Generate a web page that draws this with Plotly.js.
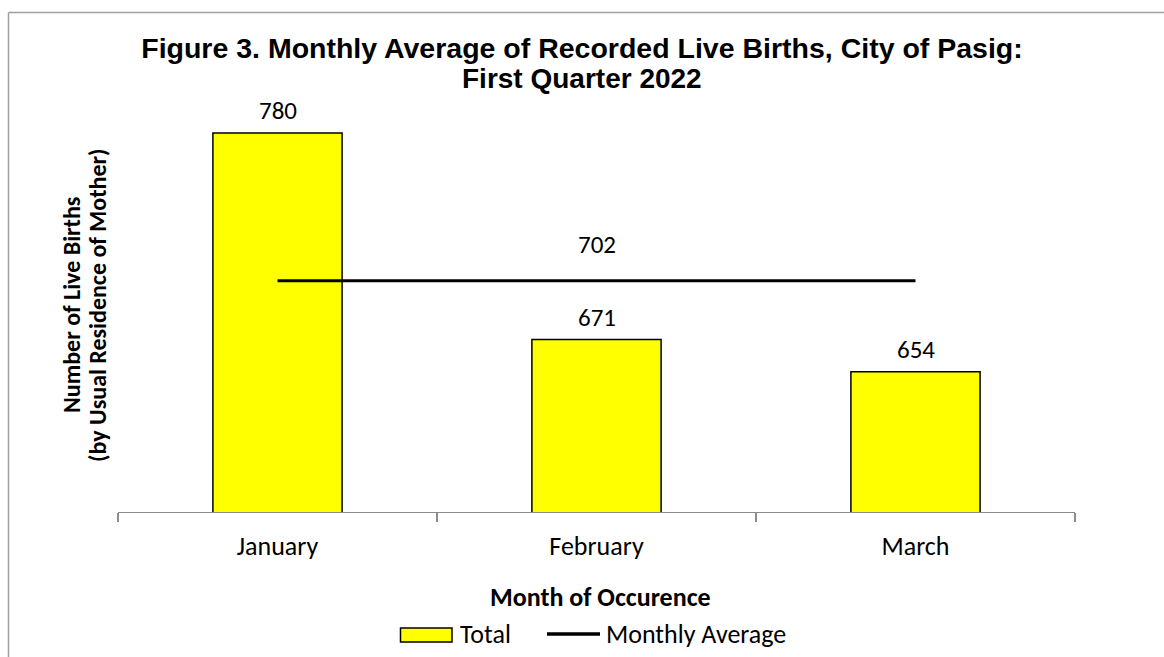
<!DOCTYPE html>
<html>
<head>
<meta charset="utf-8">
<script src="https://cdn.plot.ly/plotly-3.0.1.min.js"></script>
<style>html,body{margin:0;padding:0;background:#fff}#chart{width:1164px;height:657px}</style>
</head>
<body>
<div id="chart"></div>
<script>
const months = ["January", "February", "March"];
const totals = [780, 671, 654];
const average = [702, 702, 702];
const averageLabel = "702";
const seriesNames = ["Total", "Monthly Average"];
const titleLines = ["Figure 3. Monthly Average of Recorded Live Births, City of Pasig:", "First Quarter 2022"];
const yTitleLines = ["Number of Live Births", "(by Usual Residence of Mother)"];
const xTitle = "Month of Occurence";

const bodyFont = "Carlito, Lato, 'Liberation Sans', sans-serif";
const titleFont = "'Liberation Sans', Arial, sans-serif";

// plot-area geometry helpers (pixels -> paper)
const L = 118, R = 89, T = 95, B = 145, W = 1164, H = 657;
const PW = W - L - R, PH = H - T - B;
const px = x => (x - L) / PW;
const py = y => (H - B - y) / PH;

const traces = [
  {
    type: "bar",
    name: seriesNames[0],
    x: months,
    y: totals,
    width: 0.405,
    marker: {color: "#FFFF00", line: {color: "#000000", width: 1.5}},
    showlegend: false
  },
  {
    type: "scatter",
    mode: "lines",
    name: seriesNames[1],
    x: months,
    y: average,
    line: {color: "#000000", width: 3.2},
    showlegend: false
  }
];

const annotations = months.map((m, i) => ({
  x: m, y: totals[i], xref: "x", yref: "y",
  text: String(totals[i]), showarrow: false,
  yanchor: "bottom", yshift: 5,
  font: {family: bodyFont, size: 25, color: "#000"}
}));
annotations.push({
  x: months[1], y: average[1], xref: "x", yref: "y",
  text: averageLabel, showarrow: false,
  yanchor: "bottom", yshift: 19,
  font: {family: bodyFont, size: 25, color: "#000"}
});
// title line 2
annotations.push({
  x: px(582), y: py(78.5), xref: "paper", yref: "paper",
  text: "<b>" + titleLines[1] + "</b>", showarrow: false,
  xanchor: "center", yanchor: "middle",
  font: {family: titleFont, size: 28, color: "#000"}
});
// y title (two lines, tight spacing)
[[yTitleLines[0], 71], [yTitleLines[1], 97]].forEach(([t, xc]) => {
  annotations.push({
    x: px(xc), y: py(305), xref: "paper", yref: "paper",
    text: "<b>" + t + "</b>", showarrow: false, textangle: -90,
    xanchor: "center", yanchor: "middle",
    font: {family: bodyFont, size: 24, color: "#000"}
  });
});
// x title
annotations.push({
  x: px(600), y: py(597), xref: "paper", yref: "paper",
  text: "<b>" + xTitle + "</b>", showarrow: false,
  xanchor: "center", yanchor: "middle",
  font: {family: bodyFont, size: 26, color: "#000"}
});
// legend texts
annotations.push({
  x: px(458), y: py(634), xref: "paper", yref: "paper",
  text: seriesNames[0], showarrow: false, xanchor: "left", yanchor: "middle",
  font: {family: bodyFont, size: 26, color: "#000"}
});
annotations.push({
  x: px(604), y: py(634), xref: "paper", yref: "paper",
  text: seriesNames[1], showarrow: false, xanchor: "left", yanchor: "middle",
  font: {family: bodyFont, size: 26, color: "#000"}
});

const layout = {
  width: W, height: H,
  paper_bgcolor: "#ffffff", plot_bgcolor: "#ffffff",
  margin: {l: L, r: R, t: T, b: B},
  title: {
    text: "<b>" + titleLines[0] + "</b>",
    font: {family: titleFont, size: 28.5, color: "#000"},
    x: 0.5, xref: "container", y: 1 - 48.5 / H, yref: "container", yanchor: "middle"
  },
  xaxis: {
    type: "category",
    range: [-0.5, 2.5],
    showline: true, linecolor: "#8c8c8c", linewidth: 1.3,
    ticks: "outside", tickson: "boundaries", ticklen: 9, tickcolor: "#8c8c8c", tickwidth: 1.3,
    ticklabelstandoff: 10,
    showgrid: false, zeroline: false,
    tickfont: {family: bodyFont, size: 26, color: "#000"}
  },
  yaxis: {
    range: [580, 800],
    showline: false, showgrid: false, zeroline: false,
    showticklabels: false, ticks: ""
  },
  showlegend: false,
  annotations: annotations,
  shapes: [
    // chart border (top and left visible)
    {type: "line", xref: "paper", yref: "paper", x0: px(8.5), x1: 1.2, y0: py(12.5), y1: py(12.5),
     line: {color: "#a0a0a0", width: 1.5}},
    {type: "line", xref: "paper", yref: "paper", x0: px(8.5), x1: px(8.5), y0: py(12.5), y1: -0.5,
     line: {color: "#a0a0a0", width: 1.5}},
    // legend key: Total
    {type: "rect", xref: "paper", yref: "paper", x0: px(400.5), x1: px(452), y0: py(628), y1: py(642),
     fillcolor: "#FFFF00", line: {color: "#000000", width: 1.5}},
    // legend key: Monthly Average
    {type: "line", xref: "paper", yref: "paper", x0: px(547), x1: px(600), y0: py(634), y1: py(634),
     line: {color: "#000000", width: 3.5}}
  ]
};

Plotly.newPlot("chart", traces, layout, {displayModeBar: false, staticPlot: true});
</script>
</body>
</html>
